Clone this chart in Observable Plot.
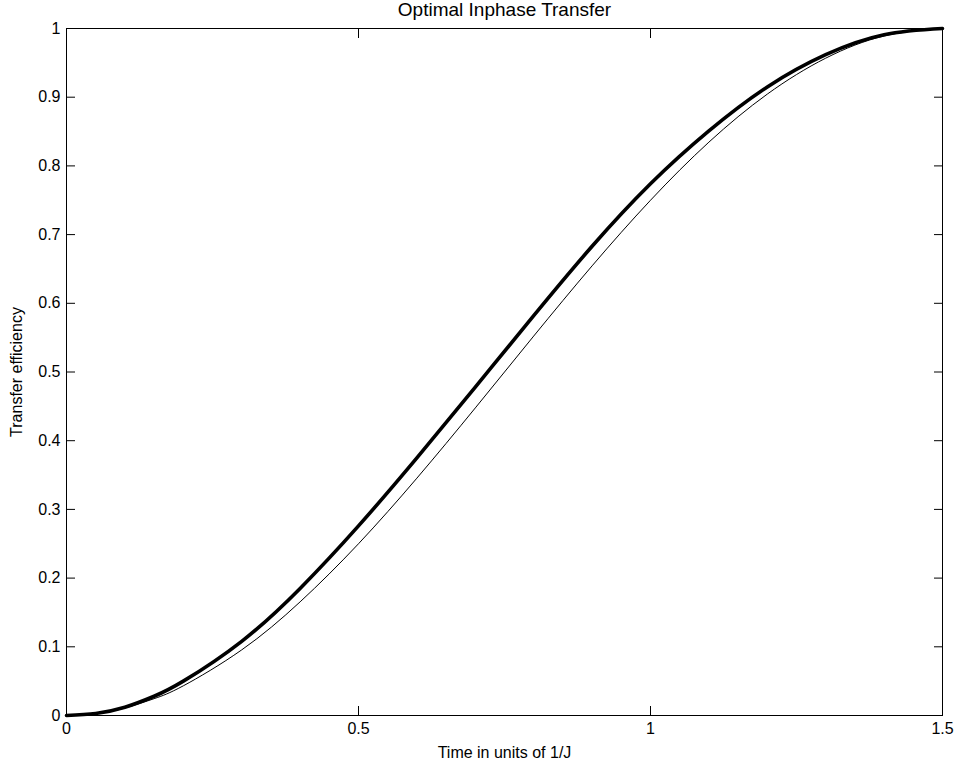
<!DOCTYPE html>
<html>
<head>
<meta charset="utf-8">
<script src="https://cdn.jsdelivr.net/npm/d3@7"></script>
<script src="https://cdn.jsdelivr.net/npm/@observablehq/plot@0.6"></script>
<style>
  html, body { margin: 0; padding: 0; background: #fff; }
  svg { display: block; }
</style>
</head>
<body>
<div id="chart"></div>
<script>
const title = "Optimal Inphase Transfer";
const xLabel = "Time in units of 1/J";
const yLabel = "Transfer efficiency";
const xTicks = [0, 0.5, 1, 1.5];
const xTickLabels = ["0", "0.5", "1", "1.5"];
const yTicks = [0, 0.1, 0.2, 0.3, 0.4, 0.5, 0.6, 0.7, 0.8, 0.9, 1];
const yTickLabels = ["0", "0.1", "0.2", "0.3", "0.4", "0.5", "0.6", "0.7", "0.8", "0.9", "1"];

const time = [0, 0.05, 0.1, 0.15, 0.2, 0.3, 0.4, 0.5, 0.6, 0.7, 0.8, 0.9, 1.0, 1.1, 1.2, 1.3, 1.4, 1.5];
const optimal = [0, 0.003, 0.012, 0.028, 0.050, 0.108, 0.185, 0.276, 0.375, 0.478, 0.582, 0.683, 0.774, 0.851, 0.915, 0.962, 0.991, 1];
const standard = [0, 0.0027, 0.0109, 0.0245, 0.0432, 0.0955, 0.1654, 0.25, 0.3455, 0.4477, 0.5523, 0.6545, 0.75, 0.8346, 0.9045, 0.9568, 0.9891, 1];

const thick = time.map((t, i) => ({t, v: optimal[i]}));
const thin = time.map((t, i) => ({t, v: standard[i]}));

const font = "Liberation Sans, Arial, Helvetica, sans-serif";

const chart = Plot.plot({
  width: 959,
  height: 771,
  marginLeft: 66,
  marginRight: 17,
  marginTop: 28,
  marginBottom: 56,
  style: {fontFamily: font, fontSize: "16px", color: "#000", background: "#fff"},
  x: {domain: [0, 1.5], label: null},
  y: {domain: [0, 1], label: null},
  marks: [
    Plot.line(thin, {x: "t", y: "v", stroke: "#000", strokeWidth: 1, curve: "natural"}),
    Plot.line(thick, {x: "t", y: "v", stroke: "#000", strokeWidth: 3.6, curve: "natural"}),
    Plot.frame({stroke: "#000", strokeWidth: 1}),
    Plot.axisX({ticks: xTicks, tickFormat: (d) => xTickLabels[xTicks.indexOf(d)], tickSize: -9, tickPadding: 16, fontSize: 16, anchor: "bottom", label: null}),
    Plot.axisX({ticks: xTicks, tickSize: -9, tickFormat: () => "", anchor: "top", label: null}),
    Plot.axisY({ticks: yTicks, tickFormat: (d) => yTickLabels[yTicks.findIndex(v => Math.abs(v - d) < 1e-9)], tickSize: -9, tickPadding: 15, fontSize: 16, anchor: "left", label: null}),
    Plot.axisY({ticks: yTicks, tickSize: -9, tickFormat: () => "", anchor: "right", label: null}),
    Plot.text([title], {frameAnchor: "top", dy: -26, fontSize: 19, fill: "#000"}),
    Plot.text([xLabel], {frameAnchor: "bottom", dy: 42, fontSize: 16, fill: "#000"}),
    Plot.text([yLabel], {frameAnchor: "left", dx: -50, rotate: -90, textAnchor: "middle", fontSize: 16, fill: "#000"})
  ]
});
document.getElementById("chart").appendChild(chart);
</script>
</body>
</html>
